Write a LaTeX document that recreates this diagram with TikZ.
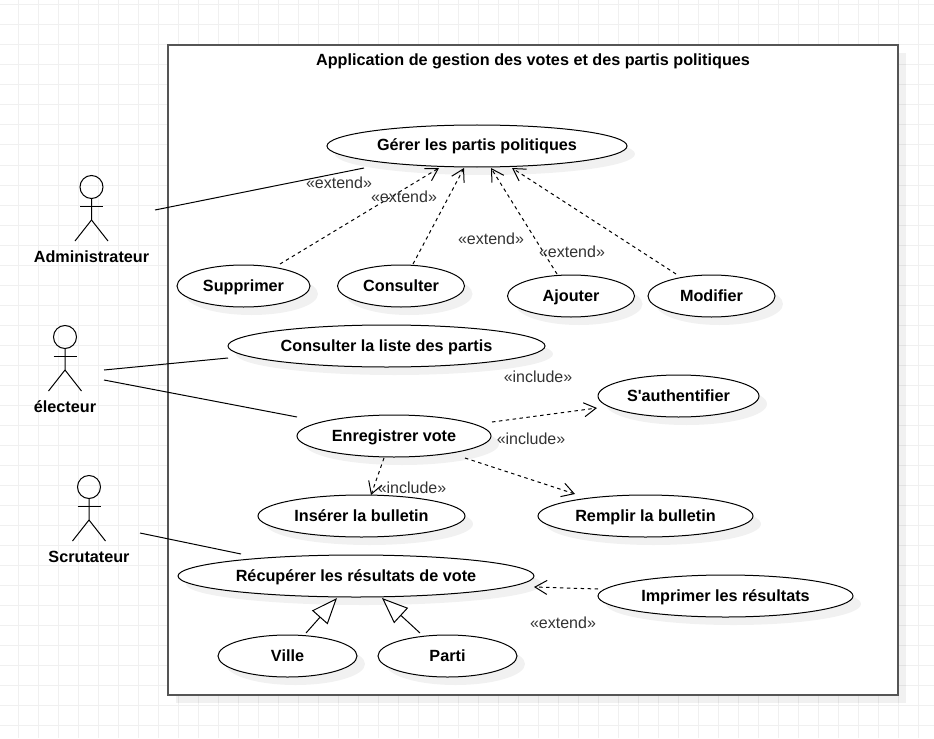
\documentclass[tikz,border=0pt]{standalone}
\usepackage{fontspec}
\setmainfont{Liberation Sans}[Ligatures=TeXOff]
\usetikzlibrary{arrows.meta,shadows,shapes.geometric}
\definecolor{gridc}{HTML}{F0F0F0}
\definecolor{framec}{HTML}{555555}
\definecolor{labelc}{HTML}{333333}
\tikzset{
  x=0.75pt,y=-0.75pt,
  px/.style={line width=0.75pt},
  softshadow/.style={drop shadow={shadow xshift=6pt,shadow yshift=-6pt,fill=black,opacity=0.055}},
  fixline/.style={text height=10pt,text depth=2.5pt},
  usecase/.style={draw=black,fill=white,ellipse,px,inner sep=0pt,font=\fontsize{12.15pt}{14pt}\selectfont\bfseries,fixline,softshadow,text=black},
  actorname/.style={inner sep=0pt,font=\fontsize{12.15pt}{14pt}\selectfont\bfseries,fixline,text=black},
  stereo/.style={inner sep=0pt,font=\fontsize{12pt}{14pt}\selectfont,fixline,text=labelc},
  assoc/.style={draw=black,px},
  depend/.style={draw=black,px,dash pattern=on 2.6pt off 2.6pt,-{Straight Barb[length=9pt,width=10.5pt,line width=0.75pt]}},
  general/.style={draw=black,px,-{Triangle[open,fill=white,length=19.5pt,width=15.5pt,line width=0.75pt]}},
}
\newcommand{\stickfigure}[1]{%
  \draw[px] ([shift={(0,11.5)}]#1.center) -- ([shift={(0,33)}]#1.center)
    -- ([shift={(-16.5,54)}]#1.center);
  \draw[px] ([shift={(0,33)}]#1.center) -- ([shift={(16.5,54)}]#1.center);
  \draw[px] ([shift={(-11.5,19)}]#1.center) -- ([shift={(11.5,19)}]#1.center);
}
\begin{document}
\begin{tikzpicture}
\useasboundingbox (0,0) rectangle (934,738);
\fill[white] (0,0) rectangle (934,738);
% background grid
\foreach \gx in {18.5,38.5,...,920}{\draw[gridc,px] (\gx,0) -- (\gx,738);}
\foreach \gy in {5,25,...,730}{\draw[gridc,px] (0,\gy) -- (934,\gy);}
% system frame
\node[draw=framec,fill=white,line width=1.5pt,minimum width=547.5pt,minimum height=487.5pt,inner sep=0pt,softshadow,shape=rectangle] (sys) at (533,370) {};
\node[actorname] (title) at (533,61) {Application de gestion des votes et des partis politiques};
% use cases
\node[usecase,minimum width=225pt,minimum height=31.5pt] (gerer) at (477,146) {Gérer les partis politiques};
\node[usecase,minimum width=99.75pt,minimum height=31.5pt] (sup) at (243.5,286) {Supprimer};
\node[usecase,minimum width=95.25pt,minimum height=31.5pt] (cons) at (401,286) {Consulter};
\node[usecase,minimum width=95.25pt,minimum height=31.5pt] (ajo) at (571,296) {Ajouter};
\node[usecase,minimum width=95.25pt,minimum height=31.5pt] (mod) at (711.5,296) {Modifier};
\node[usecase,minimum width=237.75pt,minimum height=31.5pt] (liste) at (386.5,346) {Consulter la liste des partis};
\node[usecase,minimum width=145.5pt,minimum height=31.5pt] (enr) at (394,436) {Enregistrer vote};
\node[usecase,minimum width=120.75pt,minimum height=31.5pt] (auth) at (678.5,396) {S'authentifier};
\node[usecase,minimum width=155.25pt,minimum height=31.5pt] (ins) at (361.5,516) {Insérer la bulletin};
\node[usecase,minimum width=161.25pt,minimum height=31.5pt] (rem) at (645.5,516) {Remplir la bulletin};
\node[usecase,minimum width=267pt,minimum height=31.5pt] (recup) at (356,576) {Récupérer les résultats de vote};
\node[usecase,minimum width=191.25pt,minimum height=31.5pt] (impr) at (725.5,596) {Imprimer les résultats};
\node[usecase,minimum width=104.25pt,minimum height=31.5pt] (ville) at (287.5,656) {Ville};
\node[usecase,minimum width=104.25pt,minimum height=31.5pt] (parti) at (447.5,656) {Parti};
% actors
\node[draw=black,px,circle,inner sep=0pt,minimum size=17.25pt] (adm) at (91.5,187) {};
\node[draw=black,px,circle,inner sep=0pt,minimum size=17.25pt] (ele) at (65,337) {};
\node[draw=black,px,circle,inner sep=0pt,minimum size=17.25pt] (scr) at (89,487) {};
\stickfigure{adm}
\stickfigure{ele}
\stickfigure{scr}
\node[actorname] (admname) at (91.5,257.5) {Administrateur};
\node[actorname] (elename) at (65,407.5) {électeur};
\node[actorname] (scrname) at (89,557.5) {Scrutateur};
% connectors
\draw[assoc] ([shift={(63.5,23)}]adm.center) -- ([shift={(-113,22)}]gerer.center);
\draw[depend] ([shift={(36.5,-22)}]sup.center) -- ([shift={(-38,22)}]gerer.center);
\draw[depend] ([shift={(12,-22)}]cons.center) -- ([shift={(-13,22)}]gerer.center);
\draw[depend] ([shift={(-14,-22)}]ajo.center) -- ([shift={(14,22)}]gerer.center);
\draw[depend] ([shift={(-35.5,-22)}]mod.center) -- ([shift={(35,22)}]gerer.center);
\draw[assoc] ([shift={(39,33)}]ele.center) -- ([shift={(-158.5,12)}]liste.center);
\draw[assoc] ([shift={(39,43)}]ele.center) -- ([shift={(-97,-19)}]enr.center);
\draw[depend] ([shift={(98,-14)}]enr.center) -- ([shift={(-81.5,12)}]auth.center);
\draw[depend] ([shift={(71,22)}]enr.center) -- ([shift={(-70.5,-22)}]rem.center);
\draw[depend] ([shift={(-10,22)}]enr.center) -- ([shift={(9.5,-21)}]ins.center);
\draw[assoc] ([shift={(51,46)}]scr.center) -- ([shift={(-115,-22)}]recup.center);
\draw[depend] ([shift={(-127.5,-7)}]impr.center) -- ([shift={(178,11)}]recup.center);
\draw[general] ([shift={(18.5,-23)}]ville.center) -- ([shift={(-19,22)}]recup.center);
\draw[general] ([shift={(-27.5,-23)}]parti.center) -- ([shift={(26,22)}]recup.center);
% stereotypes
\node[stereo] (e1) at (339,183) {«extend»};
\node[stereo] (e2) at (404,197) {«extend»};
\node[stereo] (e3) at (491,239) {«extend»};
\node[stereo] (e4) at (572,252) {«extend»};
\node[stereo] (e5) at (563,623) {«extend»};
\node[stereo] (i1) at (538,377) {«include»};
\node[stereo] (i2) at (531,439) {«include»};
\node[stereo] (i3) at (412,488) {«include»};
\end{tikzpicture}
\end{document}
